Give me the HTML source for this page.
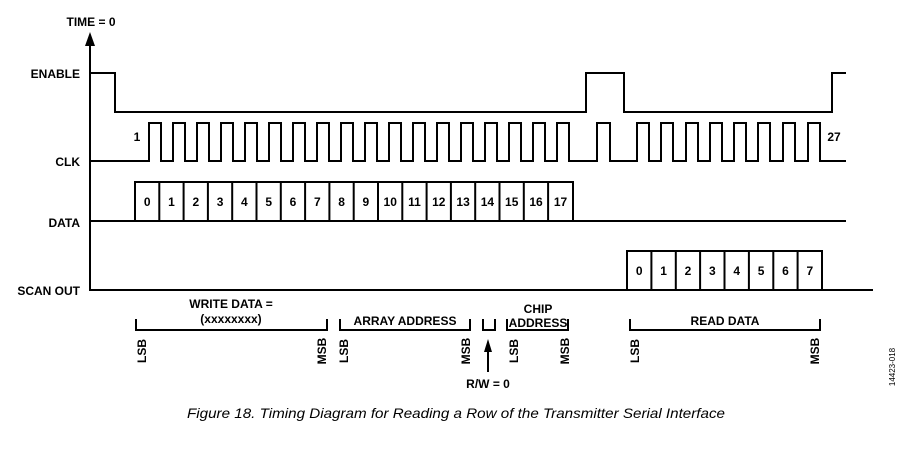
<!DOCTYPE html>
<html><head><meta charset="utf-8"><style>
html,body{margin:0;padding:0;background:#fff;}
svg{display:block;}
text{font-family:"Liberation Sans",Arial,sans-serif;font-weight:bold;fill:#000;}
</style></head><body>
<svg width="920" height="459" viewBox="0 0 920 459" xmlns="http://www.w3.org/2000/svg">
<g fill="none" stroke="#000" stroke-width="2">
<!-- axis -->
<line x1="90" y1="44" x2="90" y2="291"/>
<!-- enable -->
<path d="M90,73 H115 V112 H586 V73 H624 V112 H832 V73 H846"/>
<!-- clk -->
<path d="M90,161 H149 V123 H161 V161 H173 V123 H185 V161 H197 V123 H209 V161 H221 V123 H233 V161 H245 V123 H257 V161 H269 V123 H281 V161 H293 V123 H305 V161 H317 V123 H329 V161 H341 V123 H353 V161 H365 V123 H377 V161 H389 V123 H401 V161 H413 V123 H425 V161 H437 V123 H449 V161 H461 V123 H473 V161 H485 V123 H497 V161 H509 V123 H521 V161 H533 V123 H545 V161 H557 V123 H569 V161 H597 V123 H610 V161 H637 V123 H649 V161 H661 V123 H673 V161 H686 V123 H698 V161 H710 V123 H722 V161 H734 V123 H746 V161 H758 V123 H770 V161 H783 V123 H795 V161 H808 V123 H820 V161 H846"/>
<!-- data -->
<line x1="90" y1="221" x2="846" y2="221"/>
<path d="M135,221 V182 H573 V221"/>
<path d="M159.3,182V221 M183.6,182V221 M207.9,182V221 M232.2,182V221 M256.5,182V221 M280.8,182V221 M305.1,182V221 M329.4,182V221 M353.7,182V221 M378,182V221 M402.3,182V221 M426.6,182V221 M450.9,182V221 M475.2,182V221 M499.5,182V221 M523.8,182V221 M548.1,182V221"/>
<!-- scan out -->
<line x1="90" y1="290" x2="873" y2="290"/>
<path d="M627,290 V251 H822 V290"/>
<path d="M651.4,251V290 M675.8,251V290 M700.1,251V290 M724.5,251V290 M748.9,251V290 M773.3,251V290 M797.6,251V290"/>
<!-- brackets -->
<path d="M136,319 V330 H327 V319"/>
<path d="M340,319 V330 H470 V319"/>
<path d="M483,319 V330 H495 V319"/>
<path d="M507,319 V330 H568 V319"/>
<path d="M630,319 V330 H820 V319"/>
<line x1="488" y1="372" x2="488" y2="350"/>
</g>
<polygon points="90,32 85,46 95,46" fill="#000"/>
<polygon points="488,339 484,352 492,352" fill="#000"/>
<g font-size="12">
<text x="91" y="26" text-anchor="middle">TIME = 0</text>
<text x="80" y="78" text-anchor="end">ENABLE</text>
<text x="80" y="166" text-anchor="end">CLK</text>
<text x="80" y="227" text-anchor="end">DATA</text>
<text x="80" y="295" text-anchor="end">SCAN OUT</text>
<text x="137" y="141" text-anchor="middle">1</text>
<text x="834" y="141" text-anchor="middle">27</text>
</g>
<g font-size="12" text-anchor="middle">
<text x="147.2" y="206">0</text><text x="171.5" y="206">1</text><text x="195.8" y="206">2</text><text x="220.1" y="206">3</text><text x="244.4" y="206">4</text><text x="268.7" y="206">5</text><text x="293" y="206">6</text><text x="317.3" y="206">7</text><text x="341.6" y="206">8</text><text x="365.9" y="206">9</text><text x="390.2" y="206">10</text><text x="414.5" y="206">11</text><text x="438.8" y="206">12</text><text x="463.1" y="206">13</text><text x="487.4" y="206">14</text><text x="511.7" y="206">15</text><text x="536" y="206">16</text><text x="560.5" y="206">17</text>
<text x="639.2" y="275">0</text><text x="663.6" y="275">1</text><text x="688" y="275">2</text><text x="712.3" y="275">3</text><text x="736.7" y="275">4</text><text x="761.1" y="275">5</text><text x="785.5" y="275">6</text><text x="809.8" y="275">7</text>
<text x="231" y="308">WRITE DATA =</text>
<text x="231" y="323">(xxxxxxxx)</text>
<text x="405" y="325">ARRAY ADDRESS</text>
<text x="538" y="313">CHIP</text>
<text x="538" y="327">ADDRESS</text>
<text x="725" y="325">READ DATA</text>
<text x="488" y="388">R/W = 0</text>
</g>
<g font-size="12" text-anchor="middle">
<text transform="translate(146,351) rotate(-90)">LSB</text>
<text transform="translate(326,351) rotate(-90)">MSB</text>
<text transform="translate(348,351) rotate(-90)">LSB</text>
<text transform="translate(470,351) rotate(-90)">MSB</text>
<text transform="translate(518,351) rotate(-90)">LSB</text>
<text transform="translate(569,351) rotate(-90)">MSB</text>
<text transform="translate(639,351) rotate(-90)">LSB</text>
<text transform="translate(819,351) rotate(-90)">MSB</text>
</g>
<text transform="translate(895,367) rotate(-90)" font-size="8" font-weight="normal" text-anchor="middle" style="font-weight:normal">14423-018</text>
<text x="187" y="418" font-size="14" font-style="italic" style="font-weight:normal" textLength="538" lengthAdjust="spacingAndGlyphs">Figure 18. Timing Diagram for Reading a Row of the Transmitter Serial Interface</text>
</svg>
</body></html>
